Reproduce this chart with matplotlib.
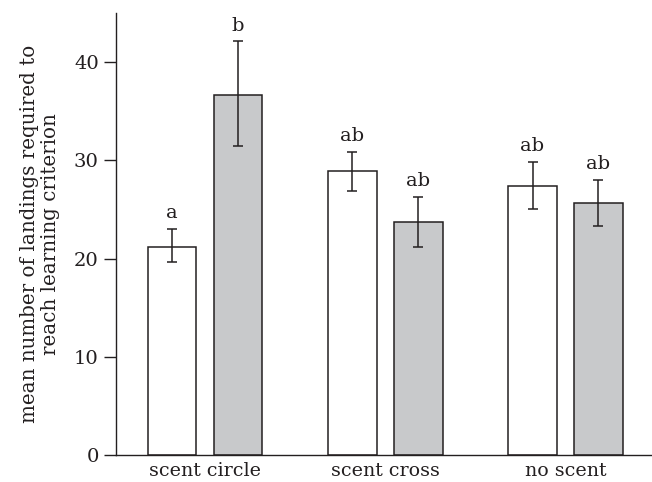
import numpy as np
import matplotlib.pyplot as plt

# data
groups = ['scent circle', 'scent cross', 'no scent']
white_means = [21.2, 28.9, 27.4]
white_err_lo = [19.6, 26.9, 25.0]
white_err_hi = [23.0, 30.9, 29.8]
grey_means = [36.7, 23.7, 25.7]
grey_err_lo = [31.5, 21.2, 23.3]
grey_err_hi = [42.1, 26.3, 28.0]
white_letters = ['a', 'ab', 'ab']
grey_letters = ['b', 'ab', 'ab']

plt.rcParams['font.family'] = ['DejaVu Serif']
edge = '#231f20'

fig = plt.figure(figsize=(6.52, 4.82), dpi=100)
ax = fig.add_axes([0.178, 0.056, 0.822, 0.917])

x = np.arange(len(groups))
w = 0.27
off = 0.183

for xs, means, lo, hi, color, letters in [
        (x - off, white_means, white_err_lo, white_err_hi, 'white', white_letters),
        (x + off, grey_means, grey_err_lo, grey_err_hi, '#c8c9cb', grey_letters)]:
    means = np.array(means)
    yerr = [means - np.array(lo), np.array(hi) - means]
    ax.bar(xs, means, w, color=color, edgecolor=edge, linewidth=1.1, zorder=2)
    ax.errorbar(xs, means, yerr=yerr, fmt='none', ecolor=edge, elinewidth=1.1,
                capsize=3.6, capthick=1.1, zorder=3)
    for xi, h, t in zip(xs, hi, letters):
        ax.text(xi, h + 0.7, t, ha='center', va='bottom', fontsize=14, color=edge)

ax.set_xlim(-0.494, 2.48)
ax.set_ylim(0, 45)
ax.set_yticks([0, 10, 20, 30, 40])
ax.set_xticks(x)
ax.set_xticklabels(groups)
ax.tick_params(axis='x', length=0, pad=5, labelsize=13.7, colors=edge)
ax.tick_params(axis='y', length=9, width=1.0, direction='out', labelsize=14, colors=edge)
for s in ['top', 'right']:
    ax.spines[s].set_visible(False)
for s in ['left', 'bottom']:
    ax.spines[s].set_color(edge)
    ax.spines[s].set_linewidth(1.0)
ax.set_ylabel('mean number of landings required to\nreach learning criterion',
              fontsize=14.3, color=edge, labelpad=10, linespacing=1.12)

fig.savefig('out.png', dpi=100)
